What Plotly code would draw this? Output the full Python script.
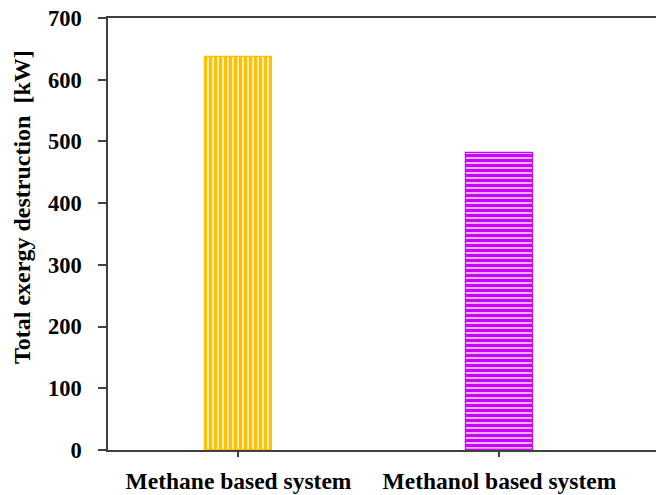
import plotly.graph_objects as go

# Total exergy destruction per system configuration
systems = ["Methane based system", "Methanol based system"]
exergy_destruction_kw = [637, 481]
bar_colors = ["#FFC000", "#CC00FF"]
pattern_shapes = ["|", "-"]
y_ticks = [0, 100, 200, 300, 400, 500, 600, 700]

FONT = "Liberation Serif, Times New Roman, serif"

fig = go.Figure()
for name, val, col, shp in zip(systems, exergy_destruction_kw, bar_colors, pattern_shapes):
    fig.add_trace(go.Bar(
        x=[name], y=[val], width=0.26,
        marker=dict(
            color="white",
            line=dict(color=col, width=1.2),
            pattern=dict(shape=shp, fgcolor=col, bgcolor="white",
                         size=5, solidity=0.72, fillmode="replace"),
        ),
        showlegend=False,
    ))

fig.update_layout(
    width=656, height=495,
    margin=dict(l=108, r=0, t=18, b=45),
    plot_bgcolor="white", paper_bgcolor="white",
    bargap=0,
    xaxis=dict(
        range=[-0.5, 1.6],
        showline=True, linecolor="#404040", linewidth=1.5, mirror=True,
        ticks="outside", ticklen=5, tickcolor="#404040", tickwidth=1.5,
        tickfont=dict(family=FONT, size=23.5, color="black", weight="bold"),
        ticklabelstandoff=4,
        showgrid=False, zeroline=False,
    ),
    yaxis=dict(
        range=[0, 700], tickvals=y_ticks,
        showline=True, linecolor="#404040", linewidth=1.5,
        ticks="outside", ticklen=8, tickcolor="#404040", tickwidth=1.5,
        tickfont=dict(family=FONT, size=22.5, color="black", weight="bold"),
        ticklabelstandoff=12,
        showgrid=False, zeroline=False,
    ),
    annotations=[dict(
        text="Total exergy destruction  [kW]",
        textangle=-90, xref="paper", yref="paper",
        x=0, y=0.5625, xanchor="center", yanchor="middle", xshift=-86,
        showarrow=False,
        font=dict(family=FONT, size=24, color="black", weight="bold"),
    )],
)

fig.write_html("out.html")
